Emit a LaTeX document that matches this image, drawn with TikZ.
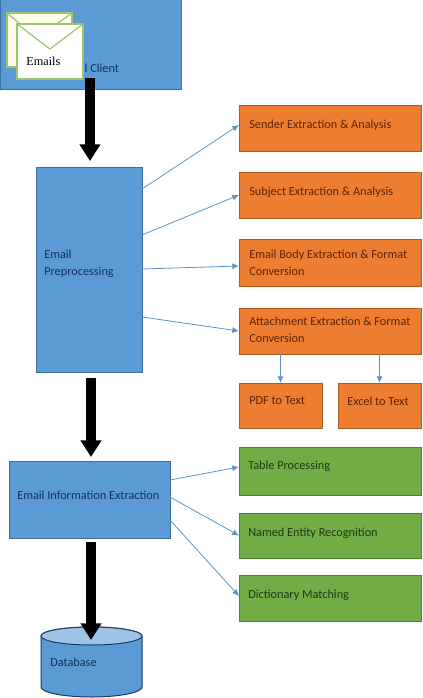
\documentclass[tikz,border=0pt]{standalone}
\usepackage{fontspec}
\setmainfont{Carlito}
\newfontfamily\serifx{Liberation Serif}
\usetikzlibrary{calc,arrows.meta}
\definecolor{bluef}{HTML}{5B9BD5}
\definecolor{blued}{HTML}{3E6E9C}
\definecolor{orangef}{HTML}{ED7D31}
\definecolor{oranged}{HTML}{AE5A21}
\definecolor{greenf}{HTML}{70AD47}
\definecolor{greend}{HTML}{507E32}
\definecolor{bluet}{HTML}{12305A}
\definecolor{oranget}{HTML}{5A2405}
\definecolor{greent}{HTML}{20380F}
\definecolor{envline}{HTML}{9DC36F}
\definecolor{arrowb}{HTML}{5B93CF}
\tikzset{
  bluebox/.style={draw=blued,fill=bluef,line width=0.75pt},
  orangebox/.style={draw=oranged,fill=orangef,line width=0.75pt},
  greenbox/.style={draw=greend,fill=greenf,line width=0.75pt},
  shapebox/.style={inner sep=0pt,outer sep=0pt},
  lbl/.style={anchor=west,inner sep=0pt,font=\fontsize{9.2}{12.9}\selectfont,align=left},
  bluelbl/.style={lbl,text=bluet},
  orangelbl/.style={lbl,text=oranget},
  greenlbl/.style={lbl,text=greent},
  thin arrow/.style={draw=arrowb,line width=0.6pt,-{Latex[length=5pt,width=4.5pt]}},
  fat arrow/.style={draw=black,line width=7.5pt,-{Triangle[length=12.5pt,width=15pt]}},
  envelope/.style={draw=envline,fill=white,line width=0.9pt},
  envflap/.style={draw=envline,line width=0.9pt}
}
\newcommand{\bx}[6]{% name x1 y1 x2 y2 style
  \pgfmathsetmacro{\bw}{(#4-#2)*0.75}\pgfmathsetmacro{\bh}{(#5-#3)*0.75}
  \node[shapebox,#6,minimum width=\bw pt,minimum height=\bh pt] (#1) at ({(#2+#4)/2},{(#3+#5)/2}) {};}
\begin{document}
\begin{tikzpicture}[x=0.75pt,y=-0.75pt]
\useasboundingbox (0,0) rectangle (422,698);
\begin{scope}
\clip (0,0) rectangle (422,698);
\bx{client}{0}{-3}{181}{90}{bluebox}
\bx{pre}{36}{168}{142}{372}{bluebox}
\bx{info}{9}{461}{170}{538}{bluebox}
\bx{send}{239}{106}{421}{152}{orangebox}
\bx{subj}{239}{173}{421}{219}{orangebox}
\bx{body}{239}{240}{421}{286}{orangebox}
\bx{att}{239}{308}{421}{354}{orangebox}
\bx{pdf}{239}{383}{322}{428}{orangebox}
\bx{xls}{338}{383}{421}{428}{orangebox}
\bx{table}{239}{447}{421}{495}{greenbox}
\bx{ner}{239}{513}{421}{558}{greenbox}
\bx{dict}{239}{575}{421}{621}{greenbox}
% database cylinder
\draw[draw=bluet!80!blued,fill=bluef,line width=0.75pt] (41,636) -- (41,687) arc[start angle=180,end angle=0,x radius=50.5,y radius=10] -- (142,636) arc[start angle=0,end angle=-180,x radius=50.5,y radius=9] -- cycle;
\draw[draw=bluet!80!blued,fill=bluef!60!white,line width=0.75pt] (91.5,636) ellipse[x radius=50.5,y radius=9];
\end{scope}
% labels
\node[bluelbl] (lclient) at (60,68) {Email Client};
\node[bluelbl] (lpre) at (44,264) {Email\\Preprocessing};
\node[bluelbl] (linfo) at (17,495) {Email Information Extraction};
\node[bluelbl] (ldb) at (50,662) {Database};
\node[orangelbl] (lsend) at (249,125) {Sender Extraction \& Analysis};
\node[orangelbl] (lsubj) at (249,192) {Subject Extraction \& Analysis};
\node[orangelbl] (lbody) at (249,263) {Email Body Extraction \& Format\\Conversion};
\node[orangelbl] (latt) at (249,330) {Attachment Extraction \& Format\\Conversion};
\node[orangelbl] (lpdf) at (249,401) {PDF to Text};
\node[orangelbl] (lxls) at (347,401) {Excel to Text};
\node[greenlbl] (ltable) at (248,466) {Table Processing};
\node[greenlbl] (lner) at (248,533) {Named Entity Recognition};
\node[greenlbl] (ldict) at (248,595) {Dictionary Matching};
% envelopes
\bx{env1}{7}{13}{72}{67}{envelope,fill=white!92!yellow}
\draw[envflap] (env1.north west) -- (37,38) -- (env1.north east);
\bx{env2}{17}{24}{83}{79}{envelope}
\draw[envflap] (env2.north west) -- (50,49) -- (env2.north east);
\node[anchor=west,inner sep=0pt,font=\serifx\fontsize{9.2}{10}\selectfont] (lemails) at (26,61) {Emails};
% fat arrows
\coordinate (a1s) at (90,78);
\coordinate (a1e) at (90,161);
\draw[fat arrow] (a1s) -- (a1e);
\coordinate (a2s) at (91,378);
\coordinate (a2e) at (91,457);
\draw[fat arrow] (a2s) -- (a2e);
\coordinate (a3s) at (91,542);
\coordinate (a3e) at (91,640);
\draw[fat arrow] (a3s) -- (a3e);
% thin arrows
\draw[thin arrow] ($(pre.north east)+(0,21)$) -- ($(send.west)+(0,-4)$);
\draw[thin arrow] ($(pre.north east)+(0,67)$) -- ($(subj.west)+(0,-1)$);
\draw[thin arrow] ($(pre.north east)+(0,101)$) -- ($(body.west)+(0,3)$);
\draw[thin arrow] ($(pre.north east)+(0,149)$) -- (att.west);
\draw[thin arrow] (att.south -| pdf) -- (pdf.north);
\draw[thin arrow] (att.south -| xls) -- (xls.north);
\draw[thin arrow] ($(info.north east)+(0,19)$) -- ($(table.west)+(0,-4)$);
\draw[thin arrow] ($(info.north east)+(0,36)$) -- (ner.west);
\draw[thin arrow] ($(info.north east)+(0,59)$) -- ($(dict.west)+(0,-2)$);
\end{tikzpicture}
\end{document}
